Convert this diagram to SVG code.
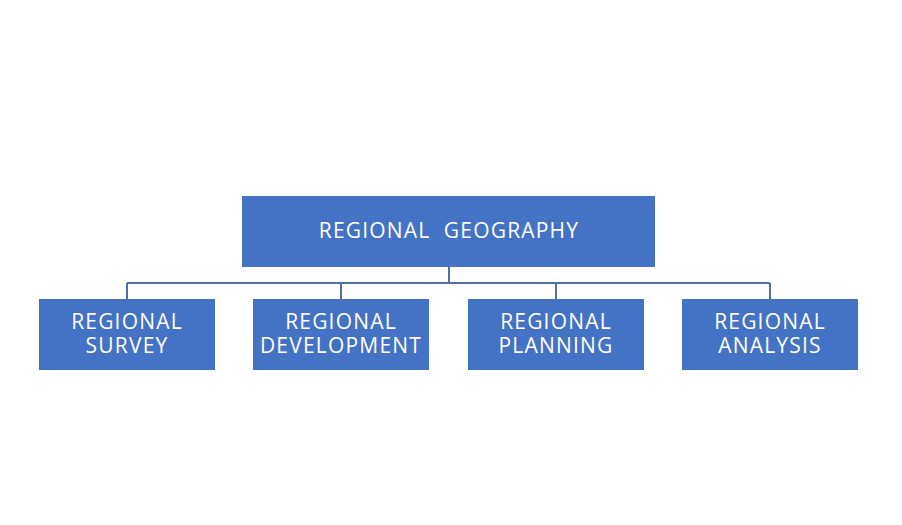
<svg xmlns="http://www.w3.org/2000/svg" width="902" height="525" viewBox="0 0 902 525">
<style>
.box{fill:#4472C4;}
.t{font-family:"Open Sans","Noto Sans","Liberation Sans",sans-serif;font-size:21px;letter-spacing:1.2px;fill:#ffffff;text-anchor:middle;}
.c{fill:none;stroke:#4F6FA8;stroke-width:2;}
</style>
<rect width="902" height="525" fill="#ffffff"/>
<g id="connectors">
<path class="c" d="M449 267 V283 M127 283 H770 M127 283 V299 M341 283 V299 M556 283 V299 M770 283 V299"/>
</g>
<g id="root">
<rect class="box" x="242" y="196" width="413" height="71"/>
<text class="t" x="449" y="238" xml:space="preserve">REGIONAL  GEOGRAPHY</text>
</g>
<g id="survey">
<rect class="box" x="39" y="299" width="176" height="71"/>
<text class="t" x="127" y="329">REGIONAL</text>
<text class="t" x="127" y="353">SURVEY</text>
</g>
<g id="development">
<rect class="box" x="253" y="299" width="176" height="71"/>
<text class="t" x="341" y="329">REGIONAL</text>
<text class="t" x="341" y="353">DEVELOPMENT</text>
</g>
<g id="planning">
<rect class="box" x="468" y="299" width="176" height="71"/>
<text class="t" x="556" y="329">REGIONAL</text>
<text class="t" x="556" y="353">PLANNING</text>
</g>
<g id="analysis">
<rect class="box" x="682" y="299" width="176" height="71"/>
<text class="t" x="770" y="329">REGIONAL</text>
<text class="t" x="770" y="353">ANALYSIS</text>
</g>
</svg>
